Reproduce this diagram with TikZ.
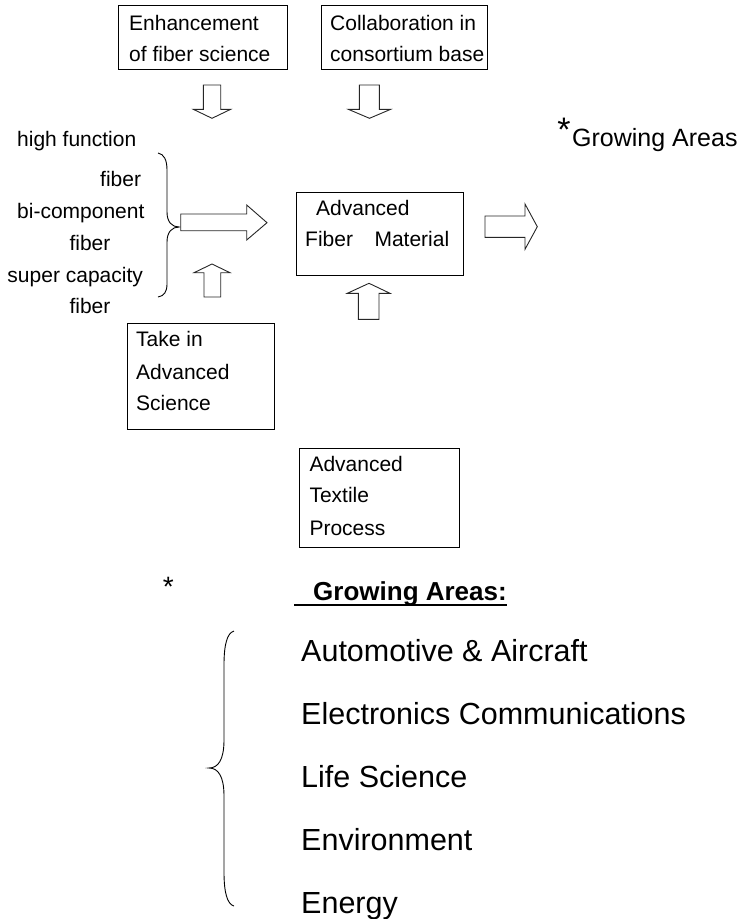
\documentclass[tikz,border=0pt]{standalone}
\usepackage{fontspec}
\setmainfont{Liberation Sans}
\begin{document}
\begin{tikzpicture}[x=1pt,y=-1pt,
  box/.style={draw=black, line width=1.2pt, inner sep=0pt, anchor=north west},
  txt/.style={inner sep=0pt, anchor=base west, font=\fontsize{21}{25}\selectfont},
  big/.style={inner sep=0pt, anchor=base west, font=\fontsize{30.5}{34}\selectfont},
  blockarr/.style={draw=black!85, line width=0.9pt, line join=miter, fill=white},
  bracestyle/.style={draw=black, line width=0.9pt}]
\useasboundingbox (0,0) rectangle (738,919);

% boxes
\node[box, minimum width=169pt, minimum height=64pt] (enh) at (118,5) {};
\node[box, minimum width=166pt, minimum height=64pt] (col) at (321,5) {};
\node[box, minimum width=167pt, minimum height=83pt] (afm) at (296,192) {};
\node[box, minimum width=147pt, minimum height=106pt] (tak) at (127,323) {};
\node[box, minimum width=160pt, minimum height=99pt] (atp) at (299,448) {};

% box texts
\node[txt] (enh1) at (129,30) {Enhancement};
\node[txt] (enh2) at (129,61.5) {of fiber science};
\node[txt] (col1) at (330,30) {Collaboration in};
\node[txt] (col2) at (330,61.5) {consortium base};
\node[txt] (afm1) at (316,215.7) {Advanced};
\node[txt] (afm2) at (305,246.7) {Fiber\hspace{21.5pt}Material};
\node[txt] (tak1) at (136,346.7) {Take in};
\node[txt] (tak2) at (136,379) {Advanced};
\node[txt] (tak3) at (136,410) {Science};
\node[txt] (atp1) at (309.3,471.7) {Advanced};
\node[txt] (atp2) at (309.3,502.7) {Textile};
\node[txt] (atp3) at (309.3,535) {Process};

% left fiber list
\node[txt] (f1) at (17,146.7) {high function};
\node[txt] (f2) at (100,186.7) {fiber};
\node[txt] (f3) at (17,218.3) {bi-component};
\node[txt] (f4) at (69.3,250) {fiber};
\node[txt] (f5) at (7.3,282) {super capacity};
\node[txt] (f6) at (69.3,313.3) {fiber};

% right brace
\draw[bracestyle] (158,153) .. controls (164,154) and (167,160) .. (167,170)
  -- (167,212) .. controls (167,222) and (172,227) .. (179,227)
  .. controls (172,227) and (167,232) .. (167,242)
  -- (167,284) .. controls (167,292) and (164,296) .. (158,297);

% block arrows
\draw[blockarr] (203.3,85) -- (220.7,85) -- (220.7,109.3) -- (230.7,109.3) -- (212,118.3) -- (193.3,109.3) -- (203.3,109.3) -- cycle;
\draw[blockarr] (359.3,85) -- (379.3,85) -- (379.3,109.3) -- (390.7,109.3) -- (369.5,118.3) -- (348.3,109.3) -- (359.3,109.3) -- cycle;
\draw[blockarr] (180.7,214) -- (246.7,214) -- (246.7,205) -- (267,222.7) -- (246.7,240) -- (246.7,230.7) -- (180.7,230.7) -- cycle;
\draw[blockarr] (204,297) -- (204,272.7) -- (194,272.7) -- (212,264) -- (230,272.7) -- (220.7,272.7) -- (220.7,297) -- cycle;
\draw[blockarr] (358.3,319.3) -- (358.3,293.3) -- (347.3,293.3) -- (369,283.3) -- (390,293.3) -- (379,293.3) -- (379,319.3) -- cycle;
\draw[blockarr] (485,216) -- (525,216) -- (525,204) -- (537.3,226.7) -- (525,249.3) -- (525,237.3) -- (485,237.3) -- cycle;

% growing areas (top right)
\node[inner sep=0pt, font=\fontsize{34}{34}\selectfont] (star1) at (564,130) {*};
\node[inner sep=0pt, anchor=base west, font=\fontsize{25}{28}\selectfont] (ga1) at (572,146.7) {Growing Areas};

% growing areas (bottom)
\node[inner sep=0pt, font=\fontsize{28}{28}\selectfont] (star2) at (168.3,587) {*};
\node[inner sep=0pt, anchor=base west, font=\bfseries\fontsize{26}{30}\selectfont] (ga2) at (313,600) {Growing Areas:};
\draw[line width=2pt] (294,605) -- (ga2.base east |- 0,605);

% left brace
\draw[bracestyle] (234,631) .. controls (227,633) and (224,645) .. (224,665)
  -- (224,740) .. controls (224,760) and (218,768) .. (209,768)
  .. controls (218,768) and (224,776) .. (224,796)
  -- (224,872) .. controls (224,892) and (227,904) .. (234,906);

% list
\node[big] (l1) at (301,661) {Automotive \& Aircraft};
\node[big] (l2) at (301,724) {Electronics Communications};
\node[big] (l3) at (301,787) {Life Science};
\node[big] (l4) at (301,850) {Environment};
\node[big] (l5) at (301,913) {Energy};
\end{tikzpicture}
\end{document}
